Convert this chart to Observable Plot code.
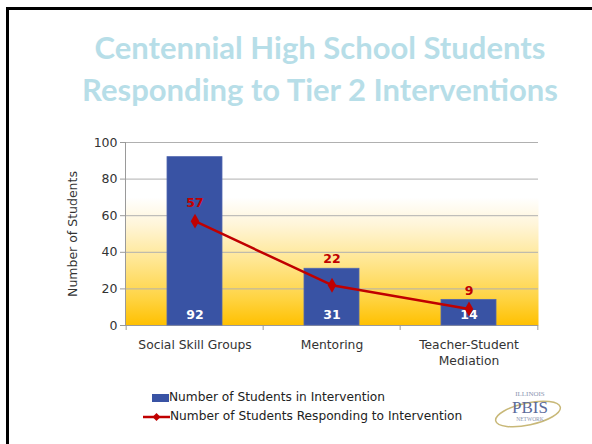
<!DOCTYPE html>
<html><head><meta charset="utf-8">
<script src="https://cdn.jsdelivr.net/npm/d3@7"></script>
<script src="https://cdn.jsdelivr.net/npm/@observablehq/plot@0.6"></script>
<style>
body{margin:0;background:#fff;width:592px;height:444px;overflow:hidden;position:relative;font-family:"DejaVu Sans",sans-serif}
#frame{position:absolute;left:6px;top:7px;width:700px;height:600px;border-top:3px solid #000;border-left:3px solid #000;box-sizing:border-box}
#chart{position:absolute;left:0;top:0}
#chart svg{background:transparent !important}
#title{position:absolute;left:0;width:640px;top:26px;text-align:center;font-family:Lato,sans-serif;font-weight:bold;font-size:31px;line-height:42px;color:#B7DEE8}
#legend{position:absolute;left:143px;top:388px;font-size:12.2px;color:#222;line-height:19px}
#legend .row{display:flex;align-items:center;height:19px}
#logo{position:absolute;left:492px;top:386px}
</style></head>
<body>
<div id="frame"></div>
<div id="chart"></div>
<div id="title">Centennial High School Students<br>Responding to Tier 2 Interventions</div>
<div id="legend">
  <div class="row"><svg width="26" height="10"><rect x="9" y="1" width="17" height="8" fill="#3953A4"/></svg><span>Number of Students in Intervention</span></div>
  <div class="row"><svg width="27" height="10"><line x1="0" y1="5" x2="27" y2="5" stroke="#C00000" stroke-width="2.5"/><path d="M13.5 1 L17.5 5 L13.5 9 L9.5 5 Z" fill="#C00000"/></svg><span>Number of Students Responding to Intervention</span></div>
</div>
<svg id="logo" width="72" height="50">
  <ellipse cx="36" cy="28" rx="33" ry="11" fill="none" stroke="#c8b878" stroke-width="1.5" transform="rotate(-12 36 28)"/>
  <text x="38" y="10" text-anchor="middle" font-family="Liberation Serif" font-size="7" fill="#8a94b0">ILLINOIS</text>
  <text x="38" y="27" text-anchor="middle" font-family="Liberation Serif" font-size="17" fill="#5a6a9a">PBIS</text>
  <text x="38" y="35" text-anchor="middle" font-family="Liberation Serif" font-size="5.5" fill="#8a94b0">NETWORK</text>
</svg>
<script>
const categories = ["Social Skill Groups", "Mentoring", "Teacher-Student\nMediation"];
const inIntervention = [92, 31, 14];
const responding = [57, 22, 9];
const yTicks = [0, 20, 40, 60, 80, 100];

const data = categories.map((c, i) => ({cat: c, enrolled: inIntervention[i], responding: responding[i]}));

const W = 592, H = 444, mL = 125, mR = 54, mT = 142, mB = 119;
const step = (W - mL - mR) / categories.length;

const chart = Plot.plot({
  width: W, height: H,
  marginLeft: mL, marginRight: mR, marginTop: mT, marginBottom: mB,
  style: {fontFamily: "DejaVu Sans, sans-serif", background: "transparent", color: "#333"},
  x: {type: "band", domain: categories, paddingInner: 0.6, paddingOuter: 0.3},
  y: {domain: [0, 100]},
  marks: [
    Plot.frame({fill: "url(#bggrad)", stroke: null}),
    Plot.gridY(yTicks.slice(1), {stroke: "#b0b0b0", strokeOpacity: 1}),
    Plot.frame({anchor: "left", stroke: "#9a9a9a"}),
    Plot.ruleY([0], {stroke: "#9a9a9a"}),
    Plot.axisY({ticks: yTicks, tickSize: 5, tickPadding: 3, fontSize: 12.5, stroke: "#9a9a9a", fill: "#333",
      label: "Number of Students", labelAnchor: "center", labelArrow: "none", labelOffset: 57}),
    Plot.axisX({tickSize: 0, tickPadding: 12, fontSize: 12.3, lineHeight: 1.3, fill: "#333", label: null}),
    Plot.ruleX(categories, {x: d => d, y1: 0, y2: 0, insetBottom: -5, dx: -step / 2, stroke: "#9a9a9a"}),
    Plot.ruleX(categories.slice(-1), {x: d => d, y1: 0, y2: 0, insetBottom: -5, dx: step / 2, stroke: "#9a9a9a"}),
    Plot.barY(data, {x: "cat", y: "enrolled", fill: "#3953A4", stroke: "#5067b0", strokeWidth: 0.8}),
    Plot.text(data, {x: "cat", y: 0, text: d => String(d.enrolled), dy: -11, fill: "white", fontWeight: "bold", fontSize: 12.5}),
    Plot.line(data, {x: "cat", y: "responding", stroke: "#C00000", strokeWidth: 2.5}),
    Plot.dot(data, {x: "cat", y: "responding", symbol: "diamond", r: 4.5, fill: "#C00000", stroke: null}),
    Plot.text(data.filter((d, i) => i !== 1), {x: "cat", y: "responding", text: d => String(d.responding), dy: -18, fill: "#C00000", fontWeight: "bold", fontSize: 12.5}),
    Plot.text(data.filter((d, i) => i === 1), {x: "cat", y: "responding", text: d => String(d.responding), dy: -26, fill: "#C00000", fontWeight: "bold", fontSize: 12.5})
  ]
});

const defs = d3.select(chart).insert("defs", ":first-child");
const g = defs.append("linearGradient").attr("id", "bggrad").attr("x1", 0).attr("y1", 0).attr("x2", 0).attr("y2", 1);
[[0, "#ffffff"], [0.3, "#ffffff"], [0.45, "#fff5d8"], [0.65, "#ffe690"], [0.85, "#ffd443"], [1, "#ffc000"]]
  .forEach(([o, c]) => g.append("stop").attr("offset", o).attr("stop-color", c));

document.getElementById("chart").appendChild(chart);
</script>
</body></html>
